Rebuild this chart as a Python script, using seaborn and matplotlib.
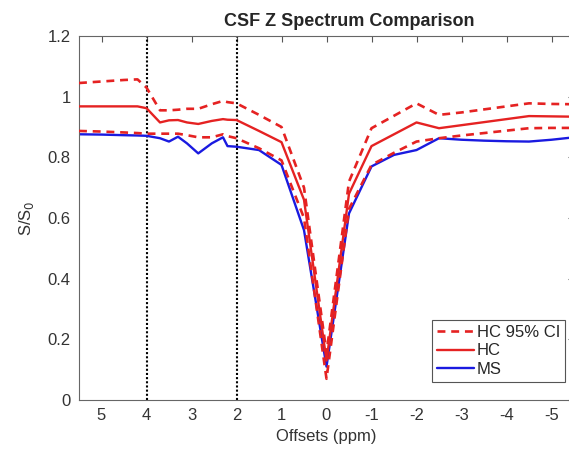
import matplotlib
matplotlib.use("Agg")
import matplotlib.pyplot as plt
import seaborn as sns
import numpy as np

offsets = [5.5, 5, 4.5, 4.2, 4, 3.7, 3.5, 3.3, 3.1, 2.85, 2.55, 2.3, 2.2, 2, 1.5, 1, 0.5, 0,
           -0.5, -1, -1.5, -2, -2.5, -3, -3.5, -4, -4.5, -5, -5.5]
hc = [0.968, 0.968, 0.968, 0.968, 0.962, 0.915, 0.922, 0.923, 0.915, 0.910, 0.920, 0.926, 0.924, 0.923,
      0.887, 0.850, 0.660, 0.130, 0.680, 0.837, 0.876, 0.915, 0.896, 0.906, 0.916, 0.926, 0.936, 0.935, 0.934]
hc_upper = [1.045, 1.050, 1.055, 1.057, 1.030, 0.955, 0.955, 0.957, 0.960, 0.960, 0.975, 0.986, 0.982, 0.978,
            0.940, 0.900, 0.700, 0.155, 0.720, 0.896, 0.937, 0.978, 0.940, 0.948, 0.958, 0.968, 0.978, 0.976, 0.975]
hc_lower = [0.887, 0.885, 0.882, 0.880, 0.878, 0.878, 0.878, 0.878, 0.873, 0.866, 0.866, 0.876, 0.870, 0.863,
            0.830, 0.790, 0.600, 0.070, 0.630, 0.775, 0.815, 0.852, 0.863, 0.872, 0.880, 0.888, 0.896, 0.897, 0.897]
ms = [0.876, 0.875, 0.873, 0.872, 0.871, 0.863, 0.852, 0.868, 0.846, 0.813, 0.846, 0.866, 0.837, 0.835,
      0.824, 0.775, 0.560, 0.110, 0.615, 0.770, 0.808, 0.824, 0.863, 0.858, 0.855, 0.853, 0.852, 0.858, 0.866]
vlines = [4, 2]
xticks = [5, 4, 3, 2, 1, 0, -1, -2, -3, -4, -5]
yticks = [0, 0.2, 0.4, 0.6, 0.8, 1.0, 1.2]
ytick_labels = ["0", "0.2", "0.4", "0.6", "0.8", "1", "1.2"]

sns.set_style("white")
plt.rcParams['font.family'] = ['Liberation Sans', 'DejaVu Sans']

W, H = 569, 458
fig = plt.figure(figsize=(W / 100, H / 100), dpi=100)
ax = fig.add_axes([79 / W, 1 - 400 / H, 495 / W, 364 / H])

red = '#e52222'
blue = '#1a1ae0'
dash = (0, (3.0, 2.2))

for v in vlines:
    ax.axvline(v, color='black', linestyle=(0, (1, 1)), linewidth=1.5, zorder=1)

sns.lineplot(x=offsets, y=hc_upper, ax=ax, sort=False, color=red, linestyle=dash,
             linewidth=1.9, label='HC 95% CI', zorder=3)
sns.lineplot(x=offsets, y=hc_lower, ax=ax, sort=False, color=red, linestyle=dash,
             linewidth=1.9, zorder=3)
sns.lineplot(x=offsets, y=hc, ax=ax, sort=False, color=red, linewidth=1.7, label='HC', zorder=4)
sns.lineplot(x=offsets, y=ms, ax=ax, sort=False, color=blue, linewidth=1.7, label='MS', zorder=2)

ax.set_xlim(5.5, -5.5)
ax.set_ylim(0, 1.2)
ax.set_xticks(xticks)
ax.set_xticklabels([str(t) for t in xticks])
ax.set_yticks(yticks)
ax.set_yticklabels(ytick_labels)
ax.tick_params(direction='in', length=4, width=0.8, color='#555555', labelsize=12,
               labelcolor='#333333', top=True, right=True, pad=6)
for s in ax.spines.values():
    s.set_color('#666666')
    s.set_linewidth(0.8)

ax.set_xlabel('Offsets (ppm)', fontsize=12, color='#333333', labelpad=4)
ax.set_ylabel('S/S$_0$', fontsize=12, color='#333333', labelpad=8)
ax.set_title('CSF Z Spectrum Comparison', fontsize=13, fontweight='bold', x=0.545, pad=7)

handles, labels = ax.get_legend_handles_labels()
leg = ax.legend(handles, labels, loc='upper left', bbox_to_anchor=((432 - 79) / 495, (400 - 320) / 364),
                fontsize=12, frameon=True, fancybox=False, edgecolor='#555555', framealpha=1,
                handlelength=2.2, handletextpad=0.2, borderpad=0.3, labelspacing=0.2, borderaxespad=0)
leg.get_frame().set_linewidth(0.8)

fig.savefig('out.png', dpi=100)
